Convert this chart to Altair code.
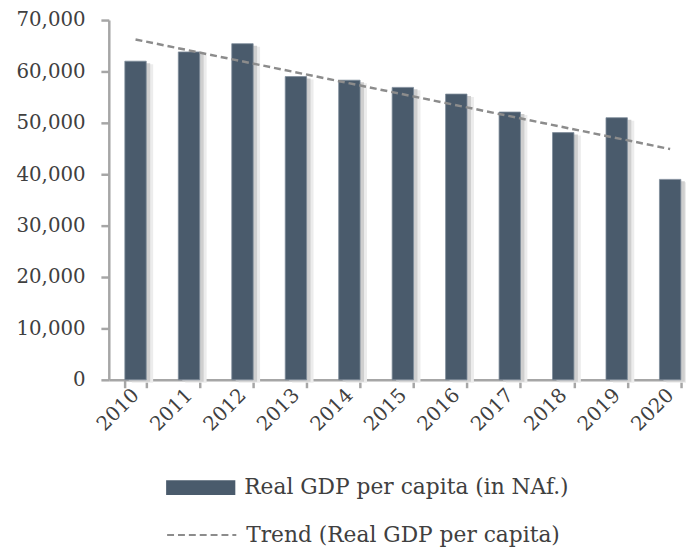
import altair as alt
import pandas as pd

years = [2010, 2011, 2012, 2013, 2014, 2015, 2016, 2017, 2018, 2019, 2020]
gdp = [62000, 63800, 65400, 59000, 58300, 56900, 55600, 52100, 48100, 51000, 39000]
bar_label = "Real GDP per capita (in NAf.)"
trend_label = "Trend (Real GDP per capita)"

df = pd.DataFrame({"year": years, "gdp": gdp, "series": [bar_label] * len(years)})

FONT = "DejaVu Serif"
TXT = "#404040"
AX = "#a6a6a6"

x = alt.X(
    "year:O",
    title=None,
    scale=alt.Scale(paddingInner=0.6, paddingOuter=0.3),
    axis=alt.Axis(labelAngle=-45, tickBand="extent", labelFont=FONT,
                  labelFontSize=20, labelColor=TXT, domainColor=AX, domainWidth=2.5,
                  tickColor=AX, tickWidth=2.5, tickSize=8, labelPadding=4),
)
y = alt.Y(
    "gdp:Q",
    title=None,
    scale=alt.Scale(domain=[0, 70000], nice=False),
    axis=alt.Axis(values=list(range(0, 70001, 10000)), format=",.0f", grid=False,
                  labelFont=FONT, labelFontSize=20, labelColor=TXT, domainColor=AX,
                  domainWidth=2.5, tickColor=AX, tickWidth=2.5, tickSize=8, labelPadding=16),
)

legend_common = dict(orient="none", title=None, labelFont=FONT, labelFontSize=22,
                     labelColor=TXT, labelOffset=9, padding=0, labelLimit=500)

shadow_outer = alt.Chart(df).mark_bar(color="#ececec", xOffset=7, yOffset=3).encode(
    x=alt.X("year:O"), y=alt.Y("gdp:Q")
)
shadow_inner = alt.Chart(df).mark_bar(color="#cfcfcf", xOffset=4, yOffset=2).encode(
    x=alt.X("year:O"), y=alt.Y("gdp:Q")
)

bars = alt.Chart(df).mark_bar(stroke="#7d8b99", strokeWidth=0.8).encode(
    x=x,
    y=y,
    color=alt.Color(
        "series:N",
        scale=alt.Scale(domain=[bar_label], range=["#4a5b6c"]),
        legend=alt.Legend(legendX=58, legendY=438,
                          symbolType="M-1,-0.214H1V0.214H-1Z", symbolSize=4900,
                          symbolStrokeWidth=0, **legend_common),
    ),
)

trend = (
    alt.Chart(df)
    .transform_regression("year", "gdp")
    .transform_calculate(series=f"'{trend_label}'")
    .mark_line(color="#8c8c8c", strokeWidth=2.5)
    .encode(
        x=alt.X("year:O"),
        y=alt.Y("gdp:Q"),
        strokeDash=alt.StrokeDash(
            "series:N",
            scale=alt.Scale(domain=[trend_label], range=[[7, 4]]),
            legend=alt.Legend(legendX=58, legendY=485,
                              symbolType="stroke", symbolSize=4900,
                              symbolStrokeColor="#8c8c8c", symbolStrokeWidth=2,
                              **legend_common),
        ),
    )
)

chart = (
    alt.layer(shadow_outer, shadow_inner, bars, trend)
    .properties(width=595, height=364, autosize=alt.AutoSizeParams(type="none"),
                padding={"left": 102, "top": 9, "right": -11, "bottom": 170})
    .configure_view(stroke=None)
    .configure_legend(labelFont=FONT)
)

chart.save("out.html", embed_options={"renderer": "svg", "actions": False})
